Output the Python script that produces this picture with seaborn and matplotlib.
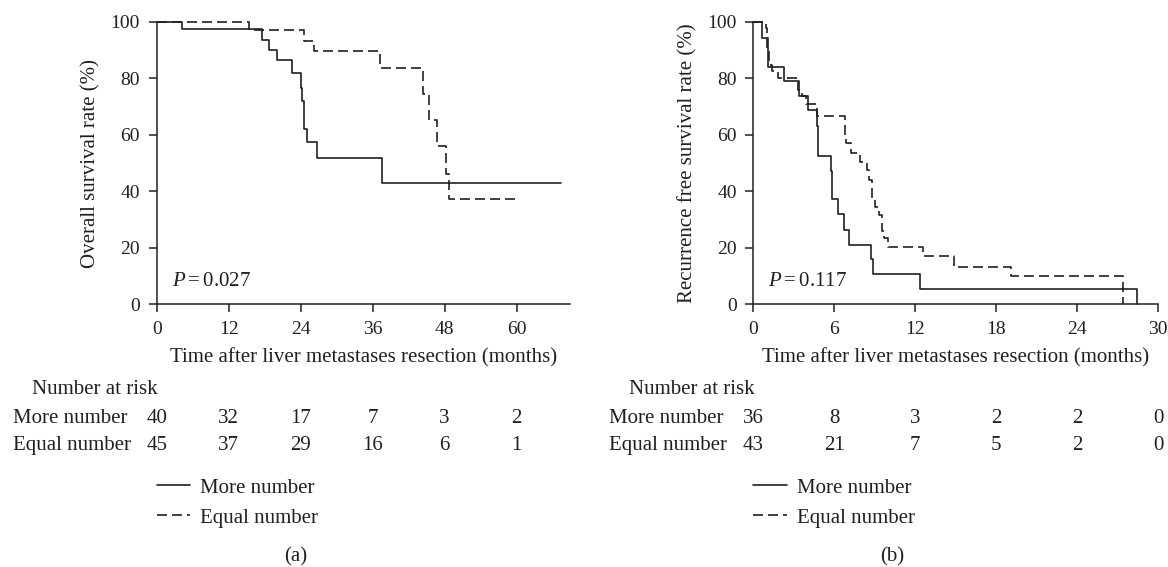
import numpy as np
import pandas as pd
import matplotlib
matplotlib.use("Agg")
import matplotlib.pyplot as plt
import seaborn as sns

# ---------------- data ----------------
groups = ["More number", "Equal number"]

# (a) overall survival
os_more_t = [0, 4.3, 17.5, 18.8, 20.1, 22.6, 24.0, 24.3, 24.6, 25.1, 26.8, 37.5, 67.4]
os_more_s = [100, 97.4, 93.5, 90.0, 86.5, 81.8, 76.6, 72.1, 62.1, 57.4, 51.8, 42.9, 42.9]
os_equal_t = [0, 15.4, 24.6, 26.3, 37.3, 44.4, 45.4, 46.8, 48.2, 48.7, 59.8]
os_equal_s = [100, 97.1, 93.3, 89.5, 83.5, 74.5, 65.3, 56.0, 46.2, 37.1, 37.1]

# (b) recurrence free survival
rfs_more_t = [0, 0.67, 1.1, 2.3, 3.35, 4.07, 4.69, 4.82, 5.73, 5.86, 6.3, 6.74, 7.1,
              8.7, 8.85, 12.35, 28.4]
rfs_more_s = [100, 94.4, 84.0, 79.0, 73.8, 68.7, 63.1, 52.6, 47.3, 37.1, 31.8, 26.3, 21.0,
              16.0, 10.7, 5.5, 0]
rfs_equal_t = [0, 0.94, 1.05, 1.15, 1.4, 1.8, 3.33, 3.58, 3.9, 4.69, 6.8, 6.9, 7.2, 7.9,
               8.4, 8.6, 8.8, 9.0, 9.3, 9.5, 9.7, 10.0, 12.6, 14.9, 19.1, 27.4]
rfs_equal_s = [100, 97.7, 90.7, 84.7, 82.5, 80.2, 75.8, 73.7, 70.8, 66.6, 59.5, 57.0, 53.4,
               50.5, 47.5, 44.0, 37.0, 34.5, 31.5, 26.0, 23.4, 20.3, 17.1, 13.3, 10.0, 0]

os_ticks = [0, 12, 24, 36, 48, 60]
rfs_ticks = [0, 6, 12, 18, 24, 30]
y_ticks = [0, 20, 40, 60, 80, 100]

os_risk_more = [40, 32, 17, 7, 3, 2]
os_risk_equal = [45, 37, 29, 16, 6, 1]
rfs_risk_more = [36, 8, 3, 2, 2, 0]
rfs_risk_equal = [43, 21, 7, 5, 2, 0]

p_values = ["0.027", "0.117"]
ylabels = ["Overall survival rate (%)", "Recurrence free survival rate (%)"]
xlabel = "Time after liver metastases resection (months)"
panel_tags = ["(a)", "(b)"]

# ---------------- style ----------------
sns.set_style("ticks")
INK = "#231f20"
plt.rcParams["font.family"] = ["Liberation Serif", "DejaVu Serif"]
plt.rcParams["mathtext.fontset"] = "custom"
plt.rcParams["mathtext.rm"] = "Liberation Serif"
plt.rcParams["mathtext.it"] = "Liberation Serif:italic"
plt.rcParams["text.color"] = INK
plt.rcParams["axes.labelcolor"] = INK
plt.rcParams["xtick.color"] = INK
plt.rcParams["ytick.color"] = INK
FS = 15      # running text
TFS = 14     # tick labels

W, H = 1168, 567
fig = plt.figure(figsize=(W / 100, H / 100), dpi=100)


def fx(px):
    return px / W


def fy(py):
    return 1 - py / H


def make_df(mt, ms, et, es):
    return pd.concat([
        pd.DataFrame({"time": mt, "surv": ms, "group": groups[0]}),
        pd.DataFrame({"time": et, "surv": es, "group": groups[1]}),
    ], ignore_index=True)


panels = [
    dict(df=make_df(os_more_t, os_more_s, os_equal_t, os_equal_s),
         left=156.7, right=570.0, xmax=68.9, ticks=os_ticks,
         risk=(os_risk_more, os_risk_equal), ptext_x=2.5),
    dict(df=make_df(rfs_more_t, rfs_more_s, rfs_equal_t, rfs_equal_s),
         left=753.3, right=1158.3, xmax=30, ticks=rfs_ticks,
         risk=(rfs_risk_more, rfs_risk_equal), ptext_x=1.1),
]

top_px, bot_px = 21.7, 304.3

for i, p in enumerate(panels):
    ax = fig.add_axes([fx(p["left"]), fy(bot_px), fx(p["right"] - p["left"]),
                       (bot_px - top_px) / H])
    sns.lineplot(data=p["df"], x="time", y="surv", style="group",
                 style_order=groups, dashes={groups[0]: "", groups[1]: (6, 3)},
                 color=INK, lw=1.2, estimator=None, sort=False,
                 drawstyle="steps-post", legend=False, clip_on=False, ax=ax)
    ax.set_xlim(0, p["xmax"])
    ax.set_ylim(0, 100)
    ax.set_xticks(p["ticks"])
    ax.set_yticks(y_ticks)
    ax.tick_params(axis="both", labelsize=TFS, length=6, width=1.1, pad=6,
                   direction="out")
    for s in ["top", "right"]:
        ax.spines[s].set_visible(False)
    for s in ["left", "bottom"]:
        ax.spines[s].set_linewidth(1.1)
        ax.spines[s].set_color(INK)
    ax.set_xlabel(xlabel, fontsize=FS, labelpad=7)
    ax.set_ylabel(ylabels[i], fontsize=FS, labelpad=7)
    ax.text(p["ptext_x"], 6.5, r"$P = $" + p_values[i], fontsize=FS,
            va="baseline", ha="left")

    # number at risk table
    off = p["left"] - 156.7
    fig.text(fx(32 + off), fy(394), "Number at risk", fontsize=FS, va="baseline")
    for r, (lab, vals) in enumerate(zip(groups, p["risk"])):
        yb = fy(423 + r * 27)
        fig.text(fx(12.7 + off), yb, lab, fontsize=FS, va="baseline")
        for t, v in zip(p["ticks"], vals):
            xd = ax.transData.transform((t, 0))[0] / W
            fig.text(xd, yb, str(v), fontsize=FS, va="baseline", ha="center")

    # legend below
    handles = ax.get_lines()[:2]
    leg = ax.legend(handles, groups, loc="upper left",
                    bbox_to_anchor=(fx(p["left"]), fy(478)),
                    bbox_transform=fig.transFigure, frameon=False,
                    fontsize=FS, handlelength=1.6, handletextpad=0.5,
                    labelspacing=0.5, borderpad=0, borderaxespad=0)
    for t in leg.get_texts():
        t.set_color(INK)

    fig.text(fx(296 + off), fy(557), panel_tags[i], fontsize=FS,
             ha="center", va="center")

fig.savefig("out.png", dpi=100)
